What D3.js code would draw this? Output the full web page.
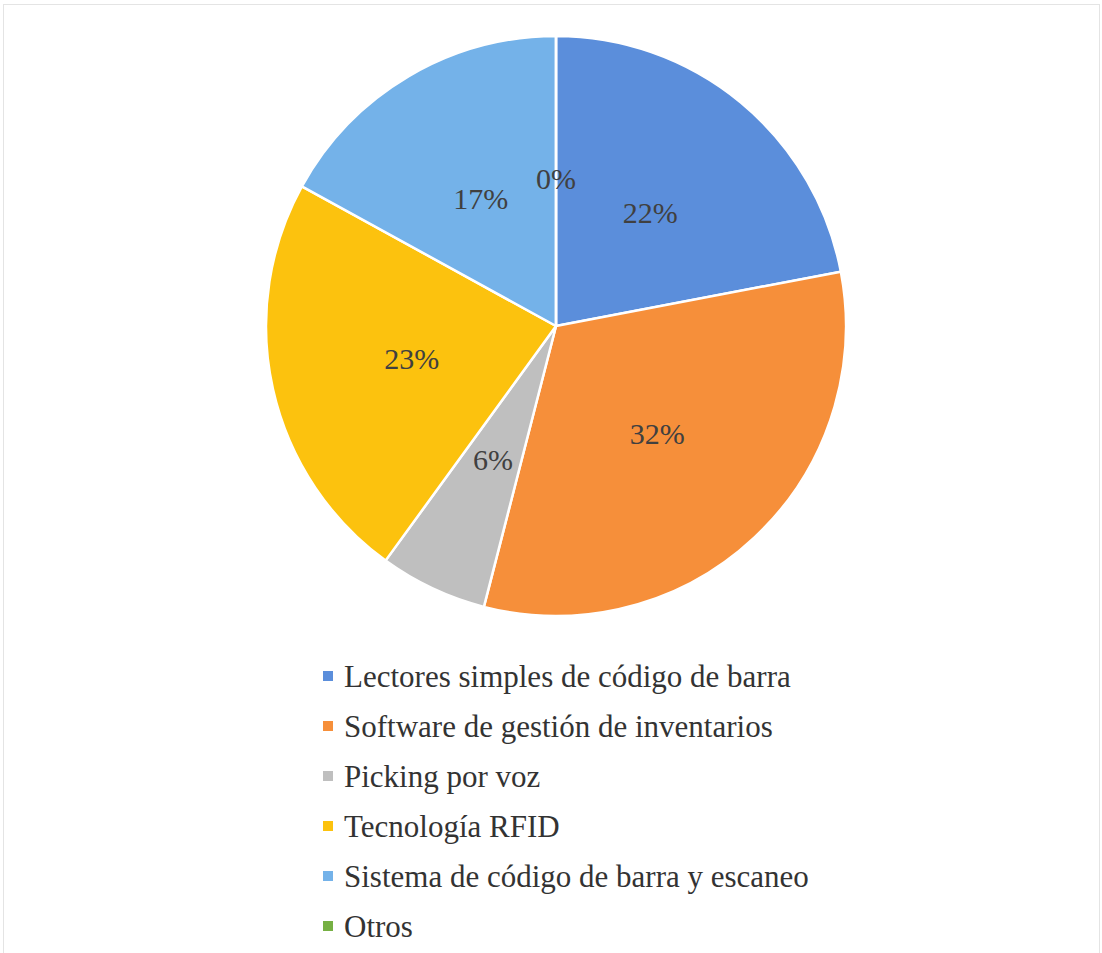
<!DOCTYPE html>
<html><head><meta charset="utf-8">
<script src="https://cdn.jsdelivr.net/npm/d3@7"></script>
<style>html,body{margin:0;padding:0;background:#fff;}
text{font-family:"Liberation Serif","Tinos","Times New Roman","Nimbus Roman","DejaVu Serif",serif;}</style>
</head><body>
<script>
const categories = ["Lectores simples de código de barra","Software de gestión de inventarios","Picking por voz","Tecnología RFID","Sistema de código de barra y escaneo","Otros"];
const values = [22, 32, 6, 23, 17, 0];
const labels = ["22%","32%","6%","23%","17%","0%"];
const colors = ["#5b8edb","#f68f3a","#bfbfbf","#fcc20e","#74b2e9","#76b043"];

const W = 1102, H = 953;
const svg = d3.select("body").append("svg").attr("width", W).attr("height", H);
svg.append("rect").attr("x",3.5).attr("y",4.5).attr("width",W-6).attr("height",H-4)
  .attr("fill","none").attr("stroke","#e4e4e4").attr("stroke-width",1);

const cx = 556, cy = 326, R = 290;
const pie = d3.pie().sort(null).value(d => d)(values);
const arc = d3.arc().innerRadius(0).outerRadius(R);
const g = svg.append("g").attr("transform", `translate(${cx},${cy})`);
g.selectAll("path").data(pie).join("path")
  .attr("d", arc).attr("fill", (d,i) => colors[i])
  .attr("stroke", "#fff").attr("stroke-width", 2.5).attr("stroke-linejoin","round");

const lArc = d3.arc().innerRadius(R*0.51).outerRadius(R*0.51);
g.selectAll("text.lbl").data(pie).join("text").attr("class","lbl")
  .attr("transform", d => { const c = lArc.centroid(d); return `translate(${c[0]},${c[1]})`; })
  .attr("text-anchor","middle").attr("dy","0.35em")
  .attr("font-size", 30).attr("fill","#404040")
  .text((d,i) => labels[i]);

const leg = svg.append("g");
const ly = d3.scalePoint().domain(categories).range([676, 926]);
const items = leg.selectAll("g").data(categories).join("g")
  .attr("transform", d => `translate(0,${ly(d)})`);
items.append("rect").attr("x",323).attr("y",-5).attr("width",10).attr("height",10)
  .attr("fill", (d,i) => colors[i]);
items.append("text").attr("x",344).attr("dy","0.35em")
  .attr("font-size", 31).attr("fill","#333")
  .text(d => d);
</script>
</body></html>
